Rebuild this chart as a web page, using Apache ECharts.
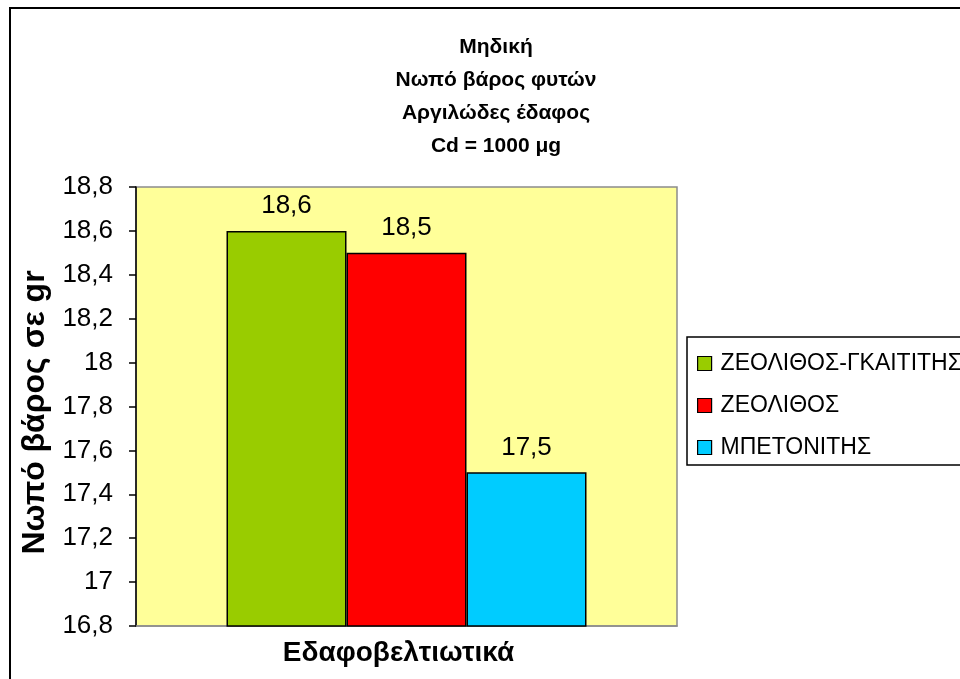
<!DOCTYPE html>
<html>
<head>
<meta charset="utf-8">
<script src="https://cdn.jsdelivr.net/npm/echarts@6/dist/echarts.min.js"></script>
<style>
  html, body { margin: 0; padding: 0; background: #fff; }
  #chart { width: 960px; height: 679px; }
</style>
</head>
<body>
<div id="chart"></div>
<script>
// Fresh plant weight per soil amendment (clay soil, Cd = 1000 μg)
const categories = [''];
const seriesNames = ['ΖΕΟΛΙΘΟΣ-ΓΚΑΙΤΙΤΗΣ', 'ΖΕΟΛΙΘΟΣ', 'ΜΠΕΤΟΝΙΤΗΣ'];
const seriesValues = [[18.6], [18.5], [17.5]];
const seriesColors = ['#99CC00', '#FF0000', '#00CCFF'];
const yTicks = { min: 16.8, max: 18.8, step: 0.2 };

const titleLines = ['Μηδική', 'Νωπό βάρος φυτών', 'Αργιλώδες έδαφος', 'Cd = 1000 μg'];
const xName = 'Εδαφοβελτιωτικά';
const yName = 'Νωπό βάρος σε gr';

const FONT = '"Liberation Sans", Arial, sans-serif';
const fmt = v => String(Math.round(v * 10) / 10).replace('.', ',');

const chart = echarts.init(document.getElementById('chart'), null, { renderer: 'canvas' });

chart.setOption({
  backgroundColor: '#ffffff',
  animation: false,
  title: {
    text: titleLines.join('\n'),
    left: 491,
    top: 26,
    textAlign: 'center',
    textStyle: { fontFamily: FONT, fontWeight: 'bold', fontSize: 21, lineHeight: 33, color: '#000' }
  },
  legend: {
    orient: 'vertical',
    left: 687,
    top: 337,
    padding: [15, 20, 6, 10],
    itemGap: 19,
    itemWidth: 14,
    itemHeight: 14,
    icon: 'rect',
    backgroundColor: '#ffffff',
    borderColor: '#000',
    borderWidth: 1.5,
    borderRadius: 0,
    itemStyle: { borderColor: '#000', borderWidth: 1.2 },
    textStyle: { fontFamily: FONT, fontSize: 23, color: '#000', padding: [0, 0, 0, 4] },
    data: seriesNames
  },
  grid: {
    left: 136, top: 187, right: 283, bottom: 53,
    show: true,
    backgroundColor: '#FFFF99',
    borderColor: '#8c8c8c',
    borderWidth: 1.5
  },
  xAxis: {
    type: 'category',
    data: categories,
    name: xName,
    nameLocation: 'middle',
    nameGap: 13,
    nameTextStyle: { fontFamily: FONT, fontWeight: 'bold', fontSize: 28, color: '#000', padding: [0, 16, 0, 0] },
    axisLine: { lineStyle: { color: '#8c8c8c', width: 1.5 } },
    axisTick: { show: false },
    axisLabel: { show: false },
    splitLine: { show: false }
  },
  yAxis: {
    type: 'value',
    min: yTicks.min,
    max: yTicks.max,
    interval: yTicks.step,
    name: yName,
    nameLocation: 'middle',
    nameRotate: 90,
    nameGap: 79,
    nameTextStyle: { fontFamily: FONT, fontWeight: 'bold', fontSize: 32, color: '#000', padding: [0, 12, 0, 0] },
    axisLine: { show: true, lineStyle: { color: '#000', width: 1.5 } },
    axisTick: { show: true, inside: false, length: 7, lineStyle: { color: '#000', width: 1.5 } },
    axisLabel: { margin: 23, formatter: fmt, fontFamily: FONT, fontSize: 26, color: '#000' },
    splitLine: { show: false }
  },
  series: seriesNames.map((name, i) => ({
    name,
    type: 'bar',
    data: seriesValues[i],
    barWidth: 120,
    barGap: '0%',
    itemStyle: { color: seriesColors[i], borderColor: '#000', borderWidth: 1.5 },
    label: {
      show: true,
      position: 'top',
      distance: 12,
      formatter: p => fmt(p.value),
      fontFamily: FONT,
      fontSize: 26,
      color: '#000'
    }
  })),
  graphic: [{
    type: 'rect',
    shape: { x: 10, y: 8, width: 1000, height: 1000 },
    style: { fill: 'none', stroke: '#000', lineWidth: 2 },
    silent: true,
    z: 100
  }]
});
</script>
</body>
</html>
